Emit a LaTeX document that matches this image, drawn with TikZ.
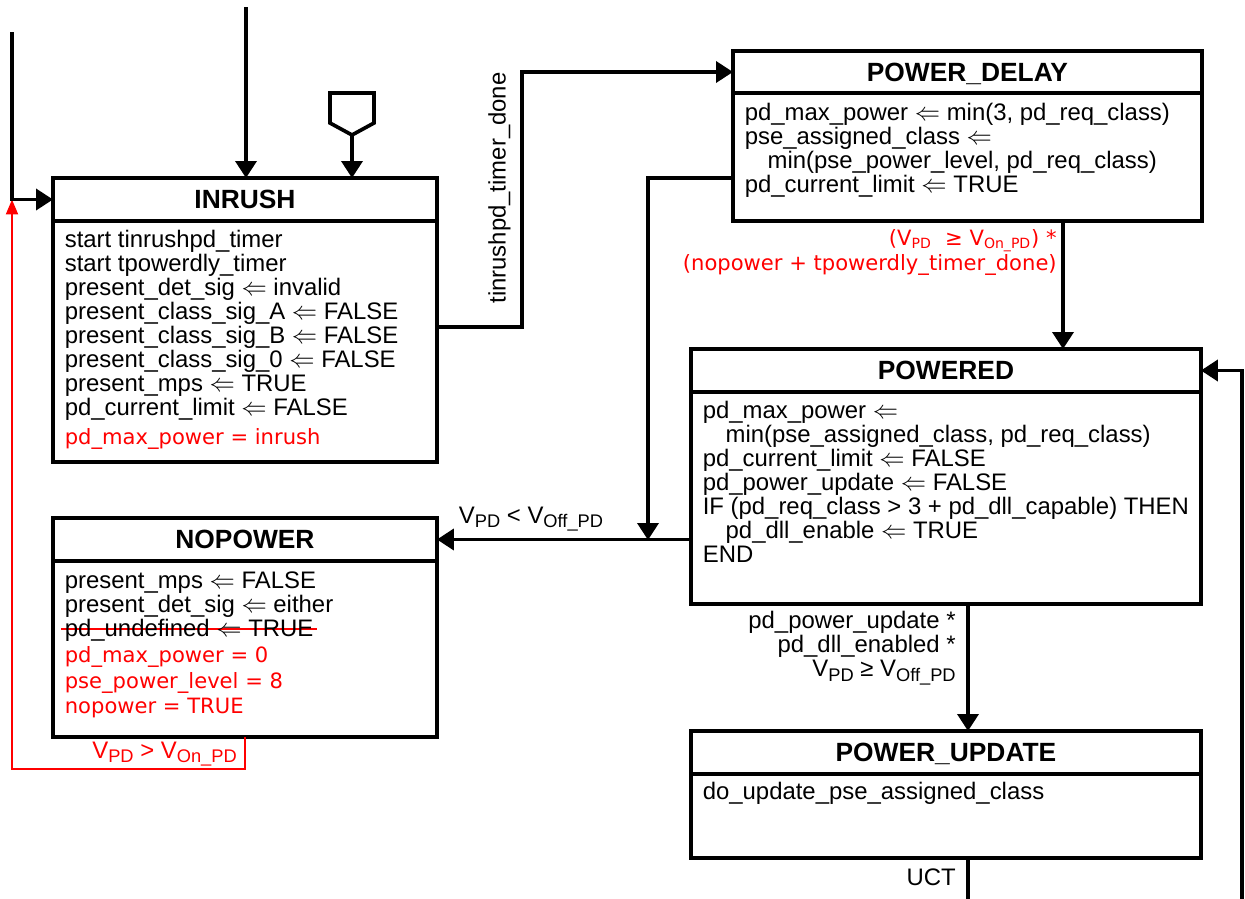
\documentclass[tikz,border=0pt]{standalone}
\usepackage{fontspec}
\setmainfont{Liberation Sans}
\newfontfamily\redfont{DejaVu Sans}
\usetikzlibrary{arrows.meta,positioning}
\newcommand\la{$\Leftarrow$}
\newcommand\sub[1]{\raisebox{-2.8pt}{\fontsize{10.4}{12}\selectfont#1}}
\newcommand\fl{\rule{0pt}{11pt}}
\newcommand\ind{\hspace*{13pt}}
\newcommand\rd[1]{{\redfont\fontsize{12}{13.66}\selectfont\color{red}#1}}
\newcommand\redstrike[1]{\sbox0{#1}\makebox[0pt][l]{\hspace*{-2pt}\textcolor{red}{\rule[3.4pt]{\dimexpr\wd0+4pt\relax}{1.1pt}}}\usebox0}
\begin{document}
\begin{tikzpicture}[x=0.02cm,y=-0.02cm,
   hd/.style={draw,line width=2.1pt,outer sep=0pt,inner sep=0pt,minimum height=0.86cm,
              anchor=north west,font=\bfseries\fontsize{15}{18}\selectfont,
              text height=10.8pt,text depth=0pt},
   bd/.style={draw,line width=2.1pt,outer sep=0pt,inner sep=0pt},
   tx/.style={anchor=north west,align=left,inner sep=0pt,font=\fontsize{13.6}{13.66}\selectfont},
   lbl/.style={inner sep=0pt,font=\fontsize{13.6}{13.66}\selectfont},
   arr/.style={-{Triangle[length=3.4mm,width=4.2mm]},line width=2.1pt},
   rarr/.style={-{Triangle[length=3mm,width=2.4mm]},line width=1.2pt,red}]
  \useasboundingbox (0,0) rectangle (1245,899);

  \node[hd,minimum width=7.68cm] (inrush) at (53,178) {INRUSH};
  \node[bd,minimum width=7.68cm,minimum height=4.82cm,below=0pt of inrush] (inrushbody) {};
  \node[tx] (inrushtxt) at ([xshift=0.23cm,yshift=-3.8pt]inrushbody.north west)
       {\fl start tinrushpd\_timer\\
        start tpowerdly\_timer\\
        present\_det\_sig \la{} invalid\\
        present\_class\_sig\_A \la{} FALSE\\
        present\_class\_sig\_B \la{} FALSE\\
        present\_class\_sig\_0 \la{} FALSE\\
        present\_mps \la{} TRUE\\
        pd\_current\_limit \la{} FALSE\\[2.8pt]
        \rd{pd\_max\_power = inrush}};

  \node[hd,minimum width=9.38cm,minimum height=0.84cm] (pdelay) at (733,51) {POWER\_DELAY};
  \node[bd,minimum width=9.38cm,minimum height=2.56cm,below=0pt of pdelay] (pdelaybody) {};
  \node[tx] (pdelaytxt) at ([xshift=0.23cm,yshift=-4.3pt]pdelaybody.north west)
       {\fl pd\_max\_power \la{} min(3, pd\_req\_class)\\
        pse\_assigned\_class \la\\
        \ind min(pse\_power\_level, pd\_req\_class)\\
        pd\_current\_limit \la{} TRUE};

  \node[hd,minimum width=10.2cm] (powered) at (691,349) {POWERED};
  \node[bd,minimum width=10.2cm,minimum height=4.24cm,below=0pt of powered] (poweredbody) {};
  \node[tx] (poweredtxt) at ([xshift=0.23cm,yshift=-3.8pt]poweredbody.north west)
       {\fl pd\_max\_power \la\\
        \ind min(pse\_assigned\_class, pd\_req\_class)\\
        pd\_current\_limit \la{} FALSE\\
        pd\_power\_update \la{} FALSE\\
        IF (pd\_req\_class > 3 + pd\_dll\_capable) THEN\\
        \ind pd\_dll\_enable \la{} TRUE\\
        END};

  \node[hd,minimum width=7.68cm] (nopower) at (53,518) {NOPOWER};
  \node[bd,minimum width=7.68cm,minimum height=3.52cm,below=0pt of nopower] (nopowerbody) {};
  \node[tx] (nopowertxt) at ([xshift=0.23cm,yshift=-4.3pt]nopowerbody.north west)
       {\fl present\_mps \la{} FALSE\\
        present\_det\_sig \la{} either\\
        \redstrike{pd\_undefined \la{} TRUE}\\[1.1pt]
        \rd{pd\_max\_power = 0}\\[1.1pt]
        \rd{pse\_power\_level = 8}\\[0.6pt]
        \rd{nopower = TRUE}};

  \node[hd,minimum width=10.2cm] (pupdate) at (691,731) {POWER\_UPDATE};
  \node[bd,minimum width=10.2cm,minimum height=1.68cm,below=0pt of pupdate] (pupdatebody) {};
  \node[tx] (pupdatetxt) at ([xshift=0.23cm,yshift=-3.2pt]pupdatebody.north west)
       {\fl do\_update\_pse\_assigned\_class};

  \draw[line width=2.1pt] (330,93) -- (374,93) -- (374,123) -- (352,135) -- (330,123) -- cycle;

  \coordinate (offp) at (352,135);
  \coordinate (start1) at (12,32);
  \coordinate (start2) at (246,7);
  \coordinate (c1) at (522,327);
  \coordinate (c2) at (648,178);
  \coordinate (jn) at (648,540);
  \coordinate (c3) at (1063,0);
  \coordinate (c4) at (968,899);
  \coordinate (in3) at (1242,899);
  \coordinate (r1) at (245,769);
  \coordinate (r2) at (12,769);

  \draw[rarr] (nopowerbody.south -| r1) -- (r1) -- (r2) -- (r2 |- inrush.west);
  \draw[arr] (start1) |- (inrush.west);
  \draw[arr] (start2) -- (start2 |- inrush.north);
  \draw[arr] (offp) -- (offp |- inrush.north);
  \draw[arr] (inrushbody.east |- c1) -- (c1) |- (pdelay.west);
  \draw[arr] (pdelaybody.west |- c2) -| (jn);
  \draw[arr] (poweredbody.west |- nopower.east) -- (nopower.east);
  \draw[arr] (pdelaybody.south -| c3) -- (powered.north -| c3);
  \draw[arr] (poweredbody.south -| c4) -- (pupdate.north -| c4);
  \draw[line width=2.1pt] (pupdatebody.south -| c4) -- (c4);
  \draw[arr] (in3) |- (powered.east);

  \node[lbl,rotate=90,anchor=south] (ltimer) at (511,188) {tinrushpd\_timer\_done};
  \node[lbl,anchor=base] (loff) at (531,523) {V\sub{PD} < V\sub{Off\_PD}};
  \node[lbl,anchor=north east,align=right,text=red,font=\redfont\fontsize{12}{14}\selectfont] (lon)
       at (1057,226) {\fl(V\textsubscript{PD}\ \ ≥ V\textsubscript{On\_PD}) *\\(nopower + tpowerdly\_timer\_done)};
  \node[lbl,anchor=north east,align=right] (lupd) at (956,609)
       {\fl pd\_power\_update *\\pd\_dll\_enabled *\\V\sub{PD} ≥ V\sub{Off\_PD}};
  \node[lbl,anchor=base east] (luct) at (956,885) {UCT};
  \node[lbl,anchor=base west,text=red] (lret) at (92,758) {V\sub{PD} > V\sub{On\_PD}};
\end{tikzpicture}
\end{document}
